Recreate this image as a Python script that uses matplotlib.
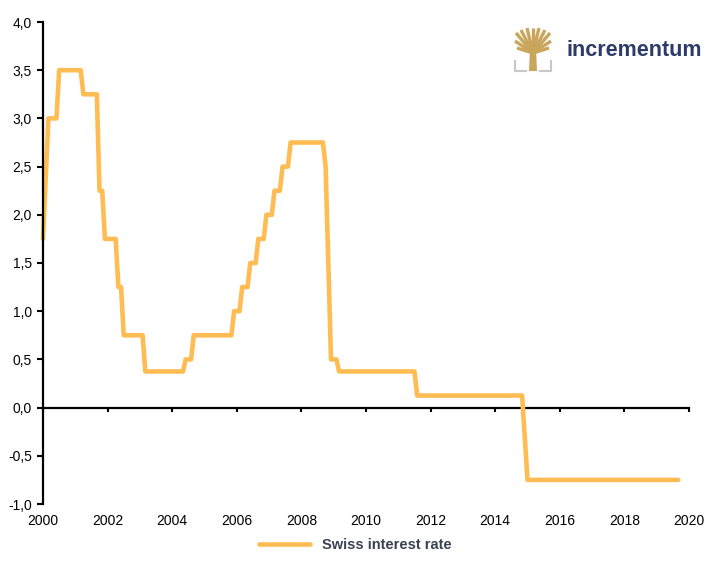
import numpy as np
import matplotlib
matplotlib.use("Agg")
import matplotlib.pyplot as plt
from matplotlib.ticker import FuncFormatter

plt.rcParams['font.family'] = ['Liberation Sans', 'DejaVu Sans']

# corner points of the step series (month, rate in %)
months = ["2000-01", "2000-03", "2000-06", "2000-07", "2001-03", "2001-04",
          "2001-09", "2001-10", "2001-11", "2001-12", "2002-04", "2002-05",
          "2002-06", "2002-07", "2003-02", "2003-03", "2004-05", "2004-06",
          "2004-08", "2004-09", "2005-11", "2005-12", "2006-02", "2006-03",
          "2006-05", "2006-06", "2006-08", "2006-09", "2006-11", "2006-12",
          "2007-02", "2007-03", "2007-05", "2007-06", "2007-08", "2007-09",
          "2008-09", "2008-10", "2008-12", "2009-02", "2009-03", "2011-07",
          "2011-08", "2014-11", "2015-01", "2019-09"]
rates = [1.75, 3.0, 3.0, 3.5, 3.5, 3.25,
         3.25, 2.25, 2.25, 1.75, 1.75, 1.25,
         1.25, 0.75, 0.75, 0.375, 0.375, 0.5,
         0.5, 0.75, 0.75, 1.0, 1.0, 1.25,
         1.25, 1.5, 1.5, 1.75, 1.75, 2.0,
         2.0, 2.25, 2.25, 2.5, 2.5, 2.75,
         2.75, 2.5, 0.5, 0.5, 0.375, 0.375,
         0.125, 0.125, -0.75, -0.75]

x_ticks = list(range(2000, 2021, 2))
y_ticks = [-1.0, -0.5, 0.0, 0.5, 1.0, 1.5, 2.0, 2.5, 3.0, 3.5, 4.0]

years = [int(m[:4]) + (int(m[5:]) - 1) / 12 for m in months]

fig = plt.figure(figsize=(7.06, 5.66), dpi=100)
ax = fig.add_axes([43 / 706, 1 - 504 / 566, 646 / 706, 482 / 566])

ax.plot(years, rates, color='#FFBC52', lw=3.3, solid_joinstyle='round',
        solid_capstyle='round', label='Swiss interest rate', clip_on=False)

ax.set_xlim(2000, 2020)
ax.set_ylim(-1.0, 4.0)

# y axis
ax.set_yticks(y_ticks)
ax.yaxis.set_major_formatter(FuncFormatter(lambda v, p: f"{v:.1f}".replace('.', ',')))
ax.tick_params(axis='y', direction='out', length=4, width=1.5, labelsize=10, pad=4)
ax.spines['left'].set_linewidth(1.6)

for s in ['top', 'right', 'bottom']:
    ax.spines[s].set_visible(False)

# x labels at the bottom, no tick marks
ax.set_xticks(x_ticks)
ax.tick_params(axis='x', length=0, labelsize=10, pad=7)

# zero line carrying the x tick marks (y=0 sits at 1/5 of the axes height)
sec = ax.secondary_xaxis(0.2)
sec.set_xticks(x_ticks)
sec.set_xticklabels([])
sec.tick_params(axis='x', direction='out', length=3, width=1.5)
sec.spines['bottom'].set_linewidth(1.6)

leg = fig.legend(loc='center', bbox_to_anchor=(0.503, 0.037), frameon=False,
                 handlelength=3.5, prop={'weight': 'bold', 'size': 10.5})
for t in leg.get_texts():
    t.set_color('#3a4353')

# logo: tree icon + name
ic = fig.add_axes([512 / 706, 1 - 73 / 566, 42 / 706, 46 / 566])
ic.set_xlim(0, 42)
ic.set_ylim(0, 46)
ic.axis('off')
gold = '#C9A65C'
ic.fill([17, 25, 24, 18], [2, 2, 24, 24], color=gold, lw=0)
for bx, by in [(4, 40), (9, 43), (15, 45), (21, 45), (27, 45), (33, 43), (38, 40),
               (3, 32), (39, 32), (5, 25), (37, 25)]:
    ic.plot([21, bx], [20, by], color=gold, lw=2.4, solid_capstyle='butt')
ic.plot([3, 3, 14], [12, 2, 2], color='#c8c8c8', lw=1.5)
ic.plot([28, 39, 39], [2, 2, 12], color='#c8c8c8', lw=1.5)

fig.text(567 / 706, 1 - 51 / 566, 'incrementum', color='#2d3b68', fontsize=15.5,
         fontweight='bold', va='center', ha='left')

fig.savefig('out.png', dpi=100)
